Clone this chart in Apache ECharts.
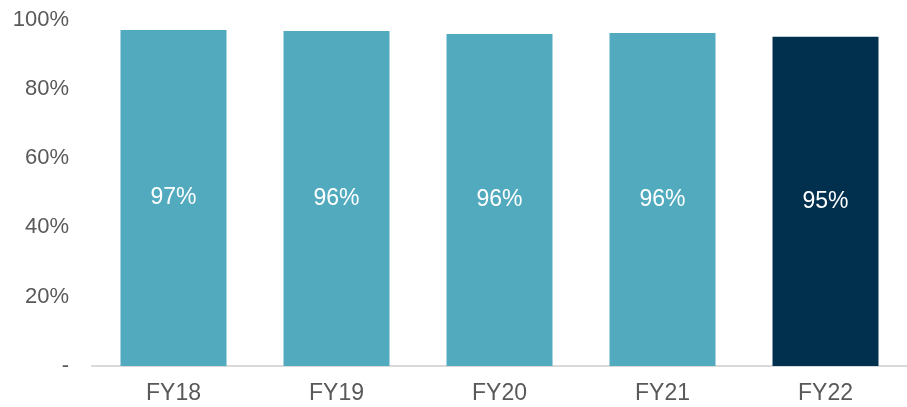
<!DOCTYPE html>
<html><head><meta charset="utf-8">
<script src="https://cdn.jsdelivr.net/npm/echarts@6/dist/echarts.min.js"></script>
<style>html,body{margin:0;padding:0;background:#fff}#c{width:907px;height:407px}</style>
</head><body><div id="c"></div>
<script>
const categories = ["FY18", "FY19", "FY20", "FY21", "FY22"];
const values = [97.0, 96.7, 95.8, 96.1, 95.0];
const barLabels = ["97%", "96%", "96%", "96%", "95%"];
const barColors = ["#51AABE", "#51AABE", "#51AABE", "#51AABE", "#00304E"];
const yTicks = {0: "-", 20: "20%", 40: "40%", 60: "60%", 80: "80%", 100: "100%"};

const font = "'Liberation Sans', Arial, sans-serif";
const chart = echarts.init(document.getElementById('c'), null, {renderer: 'canvas'});
chart.setOption({
  animation: false,
  grid: {left: 92, top: 19.5, width: 820, bottom: 41, containLabel: false},
  xAxis: {
    type: 'category', data: categories,
    axisLine: {show: true, lineStyle: {color: '#D9D9D9', width: 2}},
    axisTick: {show: false},
    axisLabel: {color: '#595959', fontSize: 23, fontFamily: font, margin: 16}
  },
  yAxis: {
    type: 'value', min: 0, max: 100, interval: 20,
    axisLine: {show: false}, axisTick: {show: false}, splitLine: {show: false},
    axisLabel: {color: '#595959', fontSize: 22, fontFamily: font, margin: 23,
      formatter: v => yTicks[v] !== undefined ? yTicks[v] : v + "%"}
  },
  series: [{
    type: 'bar',
    barWidth: 106,
    data: values.map((v, i) => ({value: v, itemStyle: {color: barColors[i]}})),
    label: {show: true, position: 'inside', color: '#fff', fontSize: 23, fontFamily: font,
      formatter: p => barLabels[p.dataIndex]}
  }]
});
</script></body></html>
